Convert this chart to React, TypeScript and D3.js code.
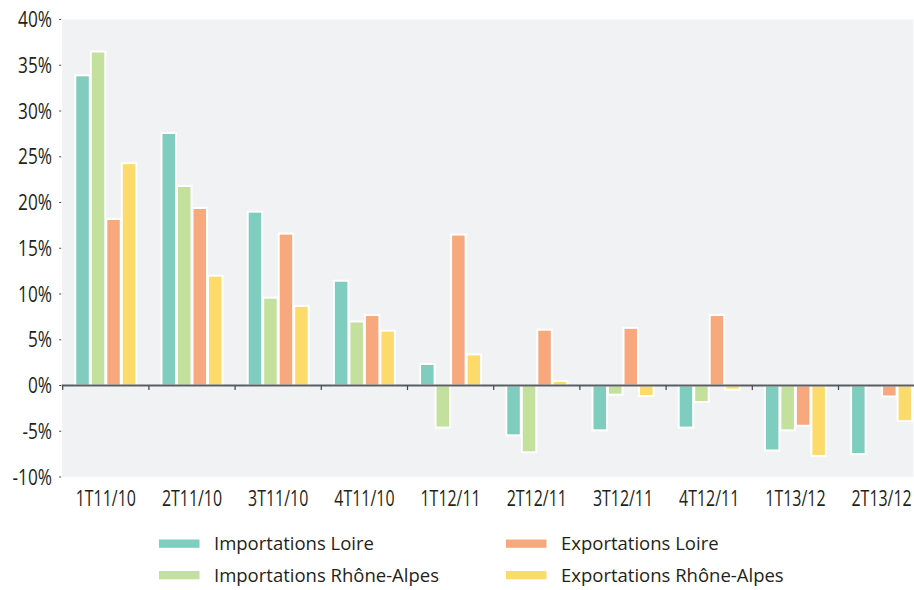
import React from "react";
import * as d3 from "d3";

const categories = ["1T11/10", "2T11/10", "3T11/10", "4T11/10", "1T12/11", "2T12/11", "3T12/11", "4T12/11", "1T13/12", "2T13/12"];
const seriesNames = ["Importations Loire", "Importations Rhône-Alpes", "Exportations Loire", "Exportations Rhône-Alpes"];
const importationsLoire = [33.9, 27.6, 19.0, 11.45, 2.35, -5.45, -4.9, -4.6, -7.1, -7.5];
const importationsRA = [36.5, 21.8, 9.6, 7.0, -4.6, -7.3, -1.0, -1.8, -4.9, 0];
const exportationsLoire = [18.2, 19.4, 16.6, 7.7, 16.5, 6.1, 6.3, 7.7, -4.4, -1.2];
const exportationsRA = [24.3, 12.0, 8.7, 6.0, 3.4, 0.5, -1.15, -0.45, -7.7, -3.9];
const yTicks = [-10, -5, 0, 5, 10, 15, 20, 25, 30, 35, 40];
const colors = ["#7fcdbf", "#c3e09d", "#f7a97d", "#fddb6a"];

export default function App() {
  const W = 914, H = 590;
  const left = 62.7, top = 19.5, bottom = 477;
  const step = 86.2;
  const x0 = d3.scaleBand<string>().domain(categories).range([left, left + step * categories.length]).padding(0);
  const x1 = d3.scaleBand<string>().domain(seriesNames).range([0, x0.bandwidth()]).paddingInner(0).paddingOuter(0.78);
  const y = d3.scaleLinear().domain([-10, 40]).range([bottom, top]);
  const series = [importationsLoire, importationsRA, exportationsLoire, exportationsRA];
  const axisFont = "'Open Sans', sans-serif";
  const legendFont = "'Open Sans', sans-serif";
  const textColor = "#231f20";
  const sx = 0.76;
  return (
    <svg width={W} height={H} style={{ position: "absolute", left: 0, top: 0, display: "block" }}>
      <rect x={left - 0.7} y={top} width={W - left} height={bottom - top} fill="#f1f2f4" />
      {yTicks.map((t) => (
        <g key={t}>
          <line x1={left - 3.5} x2={left - 1.5} y1={y(t)} y2={y(t)} stroke="#444" strokeWidth={1} />
          <text transform={`translate(52,${y(t)}) scale(0.82,1)`} dy="0.36em" textAnchor="end" fontFamily={axisFont} fontSize={21} fill={textColor}>
            {t}%
          </text>
        </g>
      ))}
      {categories.map((c, i) => (
        <g key={c}>
          {series.map((s, j) => {
            const v = s[i];
            if (v === 0) return null;
            const bx = (x0(c) as number) + (x1(seriesNames[j]) as number);
            const y0 = y(0), yv = y(v);
            return (
              <rect key={j} x={bx + 0.5} y={Math.min(y0, yv)} width={x1.bandwidth() - 1} height={Math.abs(yv - y0)}
                fill={colors[j]} stroke="#ffffff" strokeWidth={2} />
            );
          })}
        </g>
      ))}
      <line x1={left - 1} x2={W} y1={y(0)} y2={y(0)} stroke="#5a5e63" strokeWidth={2.2} />
      {categories.map((c) => (
        <line key={"t" + c} x1={x0(c) as number} x2={x0(c) as number} y1={y(0)} y2={y(0) + 4.5} stroke="#444" strokeWidth={1.2} />
      ))}
      {categories.map((c) => (
        <text key={"l" + c} transform={`translate(${(x0(c) as number) + x0.bandwidth() / 2},506) scale(${sx},1)`} textAnchor="middle" fontFamily={axisFont} fontSize={21} fill={textColor}>
          {c}
        </text>
      ))}
      {seriesNames.map((n, j) => {
        const col = j === 0 || j === 1 ? 0 : 1;
        const row = j === 0 || j === 2 ? 0 : 1;
        const lx = col === 0 ? 159 : 506;
        const ly = row === 0 ? 539.5 : 571;
        return (
          <g key={n}>
            <rect x={lx} y={ly} width={40.5} height={8.3} fill={colors[j]} />
            <text x={lx + 55} y={ly + 4.2} dy="0.36em" fontFamily={legendFont} fontSize={18.5} fill={textColor}>
              {n}
            </text>
          </g>
        );
      })}
    </svg>
  );
}
